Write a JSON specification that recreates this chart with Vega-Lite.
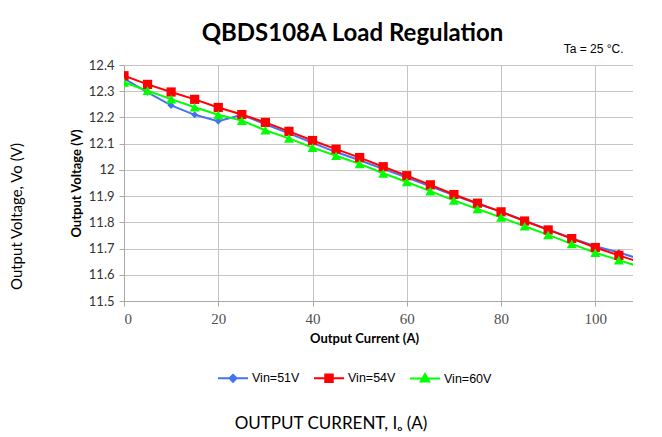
{
  "$schema": "https://vega.github.io/schema/vega-lite/v6.json",
  "width": 509,
  "height": 236,
  "padding": {"left": 9, "top": 22, "right": 0, "bottom": 0},
  "background": "white",
  "title": {
    "text": "QBDS108A Load Regulation",
    "font": "Lato",
    "fontSize": 24,
    "fontWeight": "bold",
    "color": "black",
    "anchor": "middle",
    "dx": -26,
    "offset": -4
  },
  "data": {
    "values": [
      {"I": 0, "V": 12.348, "Vin": "Vin=51V"},
      {"I": 5, "V": 12.296, "Vin": "Vin=51V"},
      {"I": 10, "V": 12.246, "Vin": "Vin=51V"},
      {"I": 15, "V": 12.21, "Vin": "Vin=51V"},
      {"I": 20, "V": 12.186, "Vin": "Vin=51V"},
      {"I": 25, "V": 12.21, "Vin": "Vin=51V"},
      {"I": 30, "V": 12.174, "Vin": "Vin=51V"},
      {"I": 35, "V": 12.139, "Vin": "Vin=51V"},
      {"I": 40, "V": 12.103, "Vin": "Vin=51V"},
      {"I": 45, "V": 12.068, "Vin": "Vin=51V"},
      {"I": 50, "V": 12.037, "Vin": "Vin=51V"},
      {"I": 55, "V": 12.004, "Vin": "Vin=51V"},
      {"I": 60, "V": 11.971, "Vin": "Vin=51V"},
      {"I": 65, "V": 11.937, "Vin": "Vin=51V"},
      {"I": 70, "V": 11.903, "Vin": "Vin=51V"},
      {"I": 75, "V": 11.871, "Vin": "Vin=51V"},
      {"I": 80, "V": 11.841, "Vin": "Vin=51V"},
      {"I": 85, "V": 11.806, "Vin": "Vin=51V"},
      {"I": 90, "V": 11.773, "Vin": "Vin=51V"},
      {"I": 95, "V": 11.74, "Vin": "Vin=51V"},
      {"I": 100, "V": 11.709, "Vin": "Vin=51V"},
      {"I": 105, "V": 11.685, "Vin": "Vin=51V"},
      {"I": 110, "V": 11.657, "Vin": "Vin=51V"},
      {"I": 0, "V": 12.359, "Vin": "Vin=54V"},
      {"I": 5, "V": 12.326, "Vin": "Vin=54V"},
      {"I": 10, "V": 12.297, "Vin": "Vin=54V"},
      {"I": 15, "V": 12.269, "Vin": "Vin=54V"},
      {"I": 20, "V": 12.238, "Vin": "Vin=54V"},
      {"I": 25, "V": 12.211, "Vin": "Vin=54V"},
      {"I": 30, "V": 12.181, "Vin": "Vin=54V"},
      {"I": 35, "V": 12.147, "Vin": "Vin=54V"},
      {"I": 40, "V": 12.112, "Vin": "Vin=54V"},
      {"I": 45, "V": 12.079, "Vin": "Vin=54V"},
      {"I": 50, "V": 12.047, "Vin": "Vin=54V"},
      {"I": 55, "V": 12.012, "Vin": "Vin=54V"},
      {"I": 60, "V": 11.978, "Vin": "Vin=54V"},
      {"I": 65, "V": 11.943, "Vin": "Vin=54V"},
      {"I": 70, "V": 11.906, "Vin": "Vin=54V"},
      {"I": 75, "V": 11.873, "Vin": "Vin=54V"},
      {"I": 80, "V": 11.84, "Vin": "Vin=54V"},
      {"I": 85, "V": 11.805, "Vin": "Vin=54V"},
      {"I": 90, "V": 11.771, "Vin": "Vin=54V"},
      {"I": 95, "V": 11.738, "Vin": "Vin=54V"},
      {"I": 100, "V": 11.704, "Vin": "Vin=54V"},
      {"I": 105, "V": 11.674, "Vin": "Vin=54V"},
      {"I": 110, "V": 11.645, "Vin": "Vin=54V"},
      {"I": 0, "V": 12.334, "Vin": "Vin=60V"},
      {"I": 5, "V": 12.302, "Vin": "Vin=60V"},
      {"I": 10, "V": 12.27, "Vin": "Vin=60V"},
      {"I": 15, "V": 12.239, "Vin": "Vin=60V"},
      {"I": 20, "V": 12.21, "Vin": "Vin=60V"},
      {"I": 25, "V": 12.188, "Vin": "Vin=60V"},
      {"I": 30, "V": 12.151, "Vin": "Vin=60V"},
      {"I": 35, "V": 12.12, "Vin": "Vin=60V"},
      {"I": 40, "V": 12.085, "Vin": "Vin=60V"},
      {"I": 45, "V": 12.054, "Vin": "Vin=60V"},
      {"I": 50, "V": 12.023, "Vin": "Vin=60V"},
      {"I": 55, "V": 11.987, "Vin": "Vin=60V"},
      {"I": 60, "V": 11.954, "Vin": "Vin=60V"},
      {"I": 65, "V": 11.919, "Vin": "Vin=60V"},
      {"I": 70, "V": 11.884, "Vin": "Vin=60V"},
      {"I": 75, "V": 11.851, "Vin": "Vin=60V"},
      {"I": 80, "V": 11.819, "Vin": "Vin=60V"},
      {"I": 85, "V": 11.785, "Vin": "Vin=60V"},
      {"I": 90, "V": 11.752, "Vin": "Vin=60V"},
      {"I": 95, "V": 11.718, "Vin": "Vin=60V"},
      {"I": 100, "V": 11.684, "Vin": "Vin=60V"},
      {"I": 105, "V": 11.656, "Vin": "Vin=60V"},
      {"I": 110, "V": 11.627, "Vin": "Vin=60V"}
    ]
  },
  "layer": [
    {
      "mark": {"type": "line", "strokeWidth": 2, "clip": true},
      "encoding": {
        "x": {
          "field": "I", "type": "quantitative",
          "scale": {"domain": [0, 108], "nice": false, "zero": false},
          "axis": {
            "orient": "bottom",
            "values": [0, 20, 40, 60, 80, 100],
            "title": "Output Current (A)",
            "titleFont": "Lato", "titleFontSize": 13, "titleFontWeight": "bold", "titleColor": "black",
            "titleX": 240, "titleY": 41, "titleBaseline": "alphabetic",
            "labelFont": "Liberation Serif", "labelFontSize": 15, "labelColor": "#505050", "labelPadding": 5,
            "grid": true, "gridColor": "#c4c4c4", "gridWidth": 1,
            "domainColor": "#a8a8a8", "tickColor": "#a8a8a8", "tickSize": 5
          }
        },
        "y": {
          "field": "V", "type": "quantitative",
          "scale": {"domain": [11.5, 12.4], "nice": false, "zero": false},
          "axis": {
            "orient": "left",
            "values": [11.5, 11.6, 11.7, 11.8, 11.9, 12.0, 12.1, 12.2, 12.3, 12.4],
            "format": "~g",
            "title": "Output Voltage (V)",
            "titleFont": "Lato", "titleFontSize": 13, "titleFontWeight": "bold", "titleColor": "black", "titlePadding": 5,
            "labelFont": "Lato", "labelFontSize": 13, "labelColor": "#333333", "labelPadding": 5,
            "grid": true, "gridColor": "#c4c4c4", "gridWidth": 1,
            "domainColor": "#a8a8a8", "tickColor": "#a8a8a8", "tickSize": 5
          }
        },
        "color": {
          "field": "Vin", "type": "nominal",
          "scale": {"domain": ["Vin=51V", "Vin=54V", "Vin=60V"], "range": ["#4472F0", "#FF0000", "#00FF00"]},
          "legend": {
            "orient": "none", "legendX": 93, "legendY": 297, "direction": "horizontal",
            "title": "OUTPUT CURRENT, Iₒ (A)",
            "titleOrient": "bottom", "titleAnchor": "middle", "titleLimit": 500,
            "titleFont": "Lato", "titleFontSize": 17, "titleFontWeight": "normal", "titleColor": "black", "titlePadding": 30,
            "labelFont": "Liberation Sans", "labelFontSize": 12.5, "labelColor": "black", "labelOffset": 3,
            "symbolSize": 900, "columnPadding": 10,
            "encode": {
              "title": {"update": {"dx": {"value": -23}}},
              "symbols": {
                "update": {
                  "shape": {"signal": "datum.value === 'Vin=51V' ? 'M-1,0H1M0,-0.23L0.23,0L0,0.23L-0.23,0Z' : datum.value === 'Vin=54V' ? 'M-1,0H1M-0.25,-0.25H0.25V0.25H-0.25Z' : 'M-1,0H1M0,-0.3L0.28,0.2L-0.28,0.2Z'"},
                  "fill": {"scale": "color", "field": "value"},
                  "stroke": {"scale": "color", "field": "value"},
                  "strokeWidth": {"value": 2},
                  "size": {"value": 900},
                  "opacity": {"value": 1}
                }
              }
            }
          }
        }
      }
    },
    {
      "transform": [{"filter": {"field": "Vin", "equal": "Vin=51V"}}],
      "mark": {"type": "point", "shape": "diamond", "size": 50, "filled": true, "opacity": 1, "clip": true},
      "encoding": {
        "x": {
          "field": "I", "type": "quantitative",
          "axis": {
            "orient": "top", "labels": false, "ticks": false, "domain": false, "grid": false,
            "title": "Ta = 25 °C.",
            "titleFont": "Liberation Sans", "titleFontSize": 12, "titleFontWeight": "normal", "titleColor": "black",
            "titleX": 499, "titleY": -13, "titleAlign": "right", "titleBaseline": "alphabetic"
          }
        },
        "y": {
          "field": "V", "type": "quantitative",
          "axis": {
            "orient": "left", "labels": false, "ticks": false, "domain": false, "grid": false,
            "title": "Output Voltage, Vo  (V)",
            "titleFont": "Lato", "titleFontSize": 15, "titleFontWeight": "normal", "titleColor": "black",
            "titleX": -103, "titleY": 151, "titleAngle": -90, "titleAlign": "center", "titleBaseline": "alphabetic"
          }
        },
        "color": {"field": "Vin", "type": "nominal"}
      }
    },
    {
      "transform": [{"filter": {"field": "Vin", "equal": "Vin=54V"}}],
      "mark": {"type": "point", "shape": "square", "size": 85, "filled": true, "opacity": 1, "clip": true},
      "encoding": {
        "x": {"field": "I", "type": "quantitative", "axis": null},
        "y": {"field": "V", "type": "quantitative", "axis": null},
        "color": {"field": "Vin", "type": "nominal"}
      }
    },
    {
      "transform": [{"filter": {"field": "Vin", "equal": "Vin=60V"}}],
      "mark": {"type": "point", "shape": "triangle-up", "size": 100, "filled": true, "opacity": 1, "clip": true},
      "encoding": {
        "x": {"field": "I", "type": "quantitative", "axis": null},
        "y": {"field": "V", "type": "quantitative", "axis": null},
        "color": {"field": "Vin", "type": "nominal"}
      }
    }
  ],
  "resolve": {"axis": {"x": "independent", "y": "independent"}},
  "config": {"view": {"stroke": null}}
}
